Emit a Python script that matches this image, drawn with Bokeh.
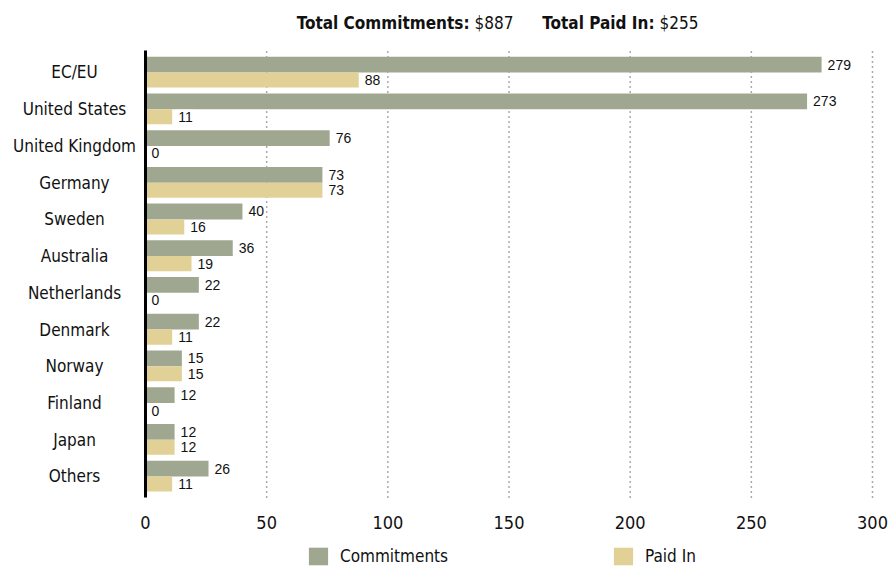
from bokeh.plotting import figure
from bokeh.models import (ColumnDataSource, Range1d, Legend, LegendItem, Label, FixedTicker)
from bokeh.transform import dodge
from bokeh.core.properties import value
from bokeh.embed import file_html
from bokeh.resources import INLINE

categories = ["EC/EU", "United States", "United Kingdom", "Germany", "Sweden", "Australia",
              "Netherlands", "Denmark", "Norway", "Finland", "Japan", "Others"]
commitments = [279, 273, 76, 73, 40, 36, 22, 22, 15, 12, 12, 26]
paid_in = [88, 11, 0, 73, 16, 19, 0, 11, 15, 0, 12, 11]
x_ticks = [0, 50, 100, 150, 200, 250, 300]
total_commitments = 887
total_paid = 255

COL_C = "#a0a791"
COL_P = "#e2d196"
INK = "#111111"
NARROW = "'Liberation Sans Narrow', 'DejaVu Sans Condensed', 'Roboto Condensed', Roboto, sans-serif"

n = len(categories)
ypos = [n - 1 - i for i in range(n)]  # first category at top
src = ColumnDataSource(dict(cat=categories, y=ypos, c=commitments, p=paid_in,
                            cl=[str(v) for v in commitments], pl=[str(v) for v in paid_in]))

Y_LO, Y_HI = -0.57, n - 1 + 0.6   # plotting-area extent (category units)

p = figure(width=891, height=567, x_range=Range1d(-59.84, 307.84), y_range=Range1d(-2.478, 12.96),
           output_backend="svg", toolbar_location=None, min_border=0)
p.outline_line_color = None
p.background_fill_color = "white"
p.border_fill_color = "white"
p.xgrid.visible = False
p.ygrid.visible = False

# dotted vertical grid lines (from tick values)
grid_src = ColumnDataSource(dict(x=x_ticks[1:], y0=[Y_LO] * (len(x_ticks) - 1), y1=[Y_HI] * (len(x_ticks) - 1)))
p.segment(x0="x", x1="x", y0="y0", y1="y1", source=grid_src, line_color="#555555",
          line_dash="1 4", line_width=1.5)

r1 = p.hbar(y=dodge("y", 0.215), right="c", left=0, height=0.43,
            source=src, color=COL_C, line_color=None)
r2 = p.hbar(y=dodge("y", -0.205), right="p", left=0, height=0.41,
            source=src, color=COL_P, line_color=None)

p.text(x="c", y=dodge("y", 0.215), text="cl", source=src, x_offset=4,
       text_font=value("Liberation Sans"), text_font_size="14px", text_color=INK,
       text_baseline="middle", background_fill_color="white", padding=2)
p.text(x="p", y=dodge("y", -0.205), text="pl", source=src, x_offset=4,
       text_font=value("Liberation Sans"), text_font_size="14px", text_color=INK,
       text_baseline="middle", background_fill_color="white", padding=2)

# category names, centred in the left margin
p.text(x=-29.3, y="y", text="cat", source=src, text_align="center", text_baseline="middle",
       text_font=value(NARROW), text_font_size="17px", text_color=INK)

# axes fixed inside the canvas
p.xaxis.fixed_location = Y_LO
p.xaxis.ticker = FixedTicker(ticks=x_ticks)
p.xaxis.axis_line_color = None
p.xaxis.major_tick_line_color = None
p.xaxis.minor_tick_line_color = None
p.xaxis.major_label_text_font = NARROW
p.xaxis.major_label_text_font_size = "18px"
p.xaxis.major_label_text_color = INK
p.xaxis.major_label_standoff = 13

p.yaxis.fixed_location = 0
p.yaxis.bounds = (Y_LO, Y_HI)
p.yaxis.axis_line_color = "black"
p.yaxis.axis_line_width = 3
p.yaxis.major_tick_line_color = None
p.yaxis.minor_tick_line_color = None
p.yaxis.major_label_text_font_size = "0px"
p.yaxis.major_label_text_color = None

# title with bold captions
for tx, txt, style, align in [(469, "Total Commitments:", "bold", "right"),
                              (474, "$%d" % total_commitments, "normal", "left"),
                              (654, "Total Paid In:", "bold", "right"),
                              (659, "$%d" % total_paid, "normal", "left")]:
    p.add_layout(Label(x=tx, y=545, x_units="screen", y_units="screen", text=txt,
                       text_font=NARROW, text_font_size="17px", text_font_style=style,
                       text_align=align, text_color=INK, text_baseline="middle"))

legend = Legend(items=[LegendItem(label="Commitments", renderers=[r1]),
                       LegendItem(label="Paid In", renderers=[r2])],
                orientation="horizontal", location=(306, 0),
                glyph_width=24, glyph_height=22, label_standoff=10, label_width=271,
                spacing=0, padding=0, margin=0, border_line_color=None,
                background_fill_alpha=0, label_text_font=NARROW,
                label_text_font_size="17px", label_text_color=INK)
p.add_layout(legend)

open("out.html", "w").write(file_html(p, INLINE))
